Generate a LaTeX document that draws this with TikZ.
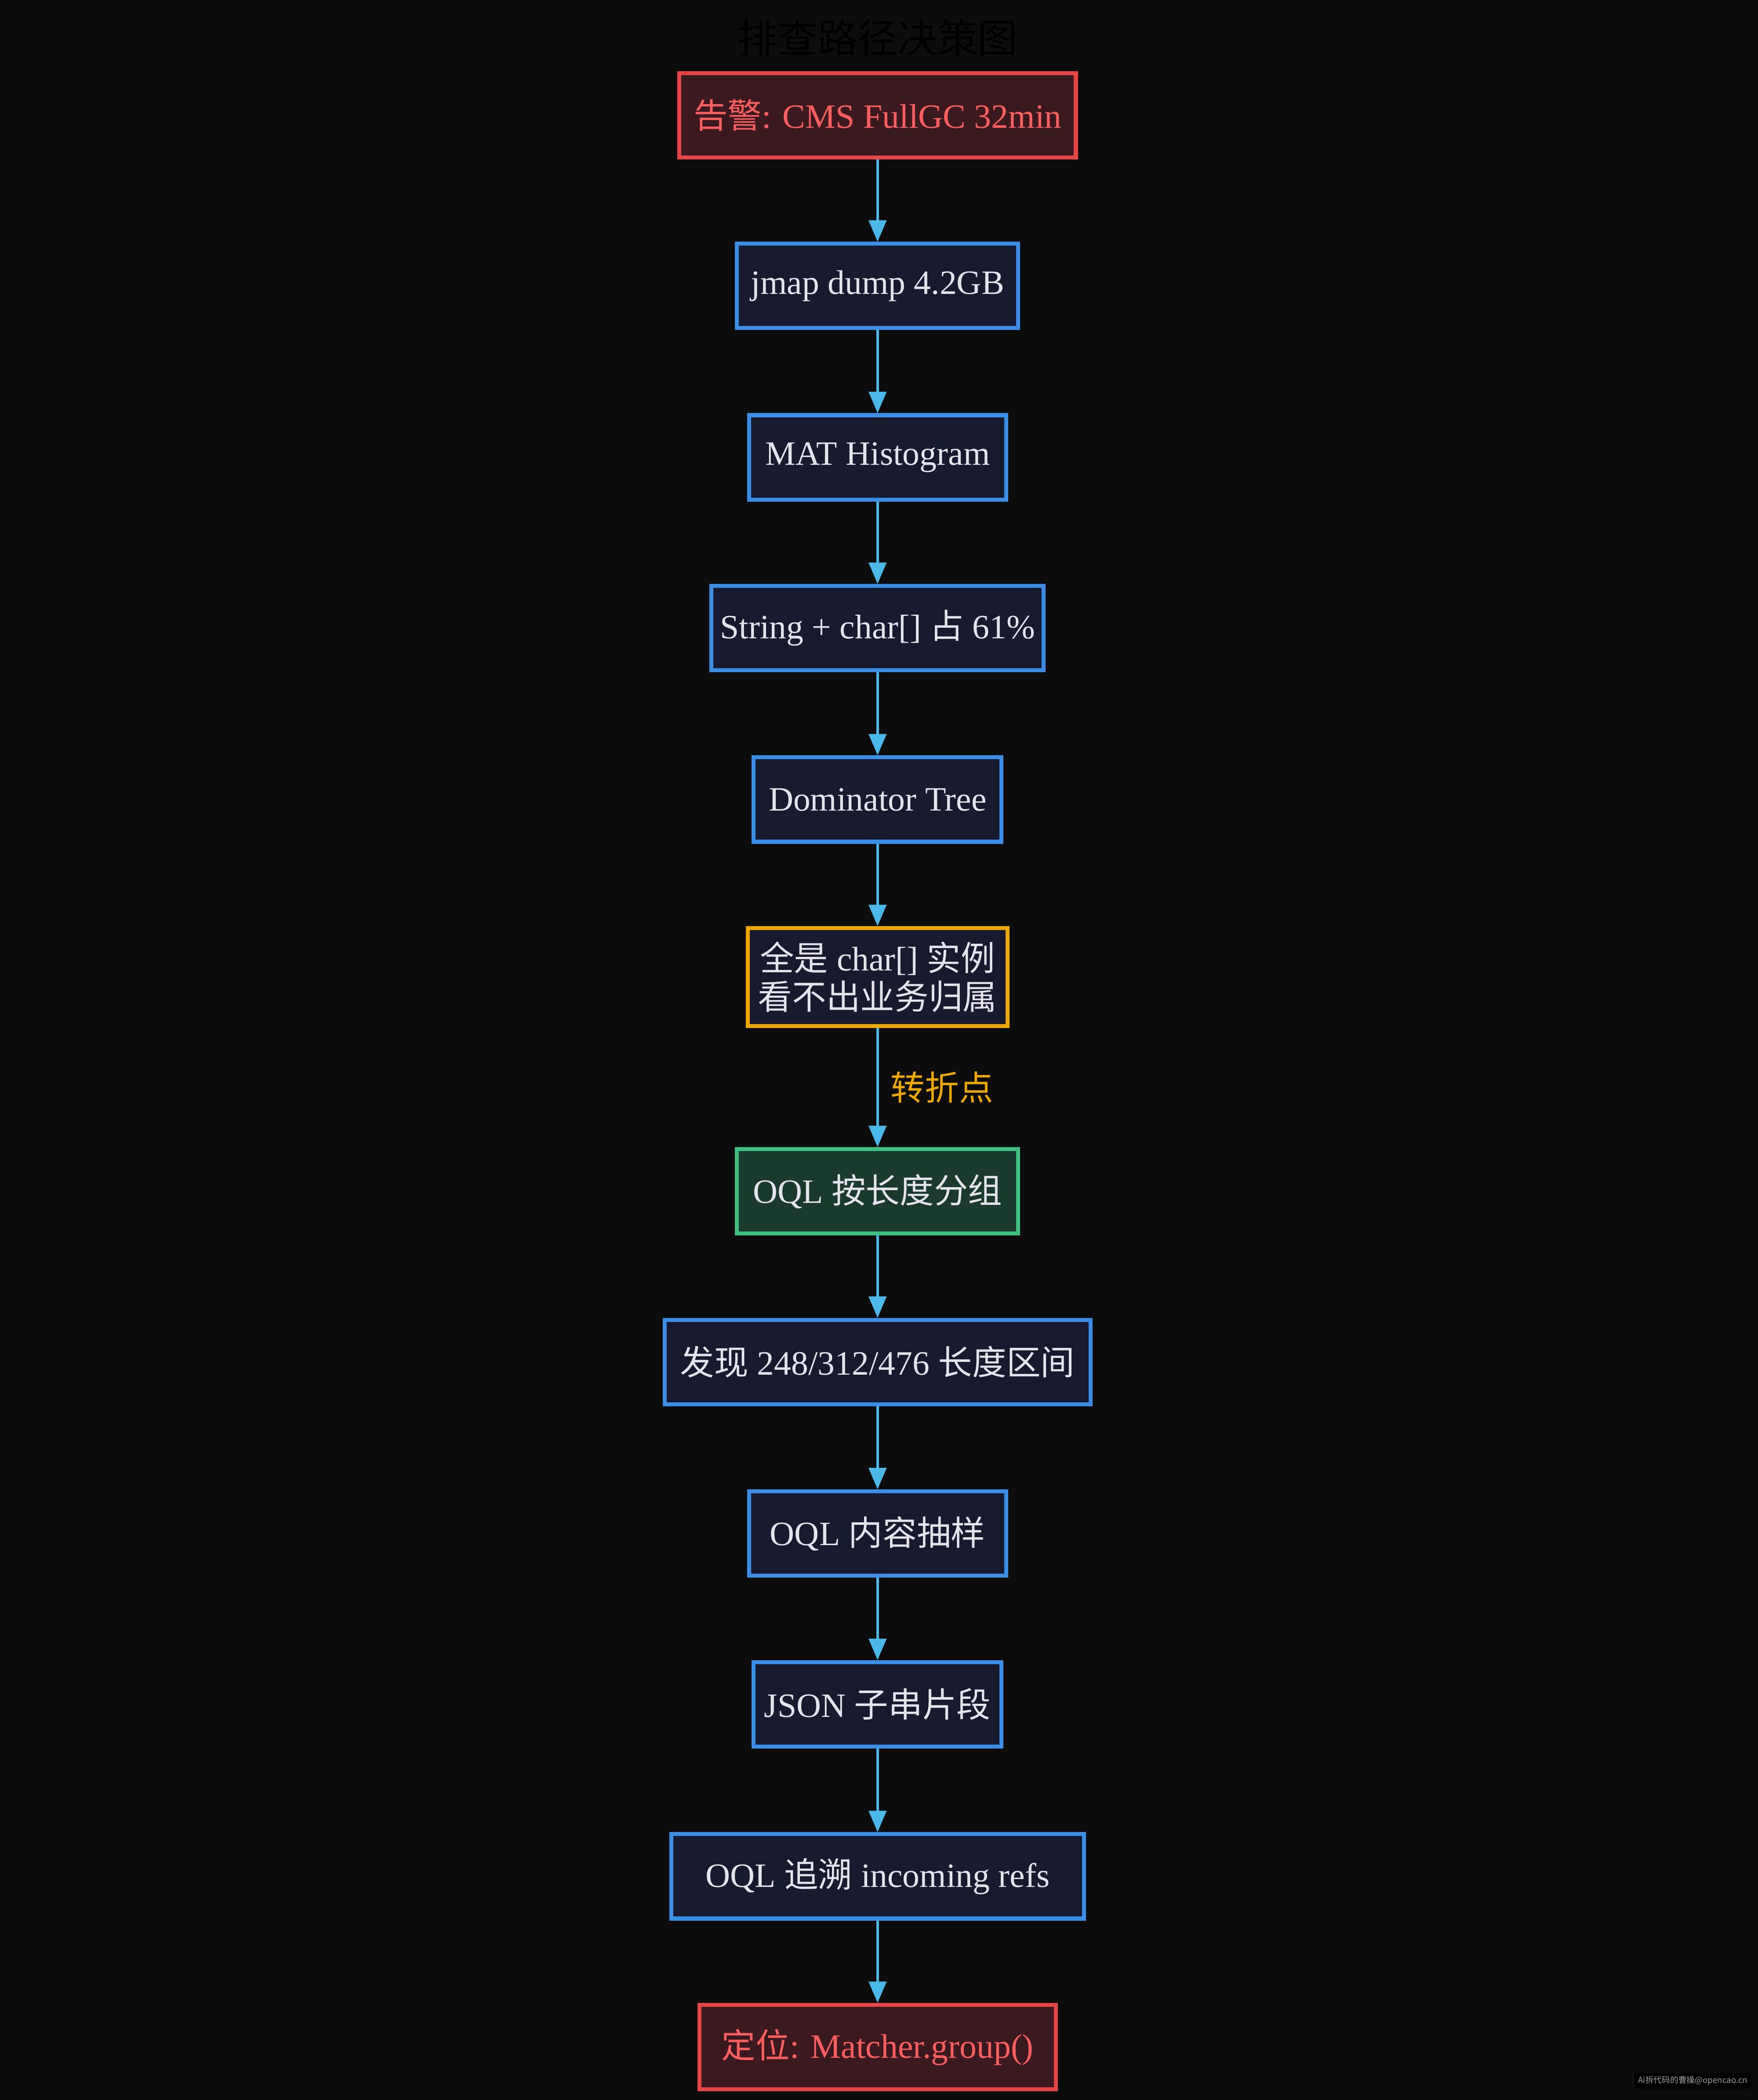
\documentclass[tikz,border=0pt]{standalone}
\usepackage{fontspec}
\setmainfont{Liberation Serif}
\newfontfamily\cjk{Noto Sans CJK SC}
\usetikzlibrary{arrows.meta,positioning}
\definecolor{bgdark}{HTML}{0C0C0C}
\definecolor{stepblue}{HTML}{3A8EE6}
\definecolor{stepfill}{HTML}{181A30}
\definecolor{alertred}{HTML}{E84545}
\definecolor{alerttext}{HTML}{FF5E5E}
\definecolor{alertfill}{HTML}{3A1A1E}
\definecolor{turnorange}{HTML}{F0A800}
\definecolor{okgreen}{HTML}{3FBF7F}
\definecolor{okfill}{HTML}{1A3A2E}
\definecolor{flowcyan}{HTML}{4AB8E8}
\definecolor{lighttext}{HTML}{E4E4EC}
\tikzset{
  stepbox/.style={draw=stepblue, fill=stepfill, line width=1.7pt, text=lighttext, minimum height=1.26cm, align=center, font=\fontsize{14.5}{18}\selectfont},
  alertbox/.style={stepbox, draw=alertred, fill=alertfill, text=alerttext},
  turnbox/.style={stepbox, draw=turnorange, minimum height=1.46cm, font=\fontsize{14.5}{16.5}\selectfont},
  okbox/.style={stepbox, draw=okgreen, fill=okfill},
  flow/.style={-{Triangle[length=0.32cm,width=0.26cm]}, draw=flowcyan, line width=1.2pt}
}
\begin{document}
\begin{tikzpicture}
  \fill[bgdark] (0,0) rectangle (26.24,-31.36);
  \useasboundingbox (0,0) rectangle (26.24,-31.36);
  % Title
  \node[text=black, font=\cjk\fontsize{17}{20}\selectfont] (title) at (13.1,-0.56) {排查路径决策图};
  % Steps
  \node[alertbox, minimum width=5.92cm] (alarm) at (13.1,-1.72) {{\cjk 告警}: CMS FullGC 32min};
  \node[stepbox, minimum width=4.2cm] (dump) at (13.1,-4.27) {jmap dump 4.2GB};
  \node[stepbox, minimum width=3.84cm] (histo) at (13.1,-6.83) {MAT Histogram};
  \node[stepbox, minimum width=4.96cm] (share) at (13.1,-9.38) {String + char[] {\cjk 占} 61\%};
  \node[stepbox, minimum width=3.7cm] (domtree) at (13.1,-11.94) {Dominator Tree};
  \node[turnbox, minimum width=3.88cm] (allchar) at (13.1,-14.59) {{\cjk 全是} char[] {\cjk 实例}\\{\cjk 看不出业务归属}};
  \node[okbox, minimum width=4.2cm] (group) at (13.1,-17.79) {OQL {\cjk 按长度分组}};
  \node[stepbox, minimum width=6.36cm] (ranges) at (13.1,-20.34) {{\cjk 发现} 248/312/476 {\cjk 长度区间}};
  \node[stepbox, minimum width=3.84cm] (sample) at (13.1,-22.9) {OQL {\cjk 内容抽样}};
  \node[stepbox, minimum width=3.7cm] (json) at (13.1,-25.45) {JSON {\cjk 子串片段}};
  \node[stepbox, minimum width=6.16cm] (refs) at (13.1,-28.02) {OQL {\cjk 追溯} incoming refs};
  \node[alertbox, minimum width=5.32cm] (found) at (13.1,-30.57) {{\cjk 定位}: Matcher.group()};
  % Arrows
  \draw[flow] (alarm) -- (dump);
  \draw[flow] (dump) -- (histo);
  \draw[flow] (histo) -- (share);
  \draw[flow] (share) -- (domtree);
  \draw[flow] (domtree) -- (allchar);
  \draw[flow] (allchar) -- node[right, text=turnorange, font=\cjk\fontsize{14.5}{18}\selectfont, xshift=0.06cm] (turnlbl) {转折点} (group);
  \draw[flow] (group) -- (ranges);
  \draw[flow] (ranges) -- (sample);
  \draw[flow] (sample) -- (json);
  \draw[flow] (json) -- (refs);
  \draw[flow] (refs) -- (found);
  % Watermark
  \node[fill=black, text=gray!80, font=\cjk\fontsize{3.5}{4}\selectfont, inner sep=1.5pt] (mark) at (25.27,-31.07) {Ai拆代码的曹操@opencao.cn};
\end{tikzpicture}
\end{document}
